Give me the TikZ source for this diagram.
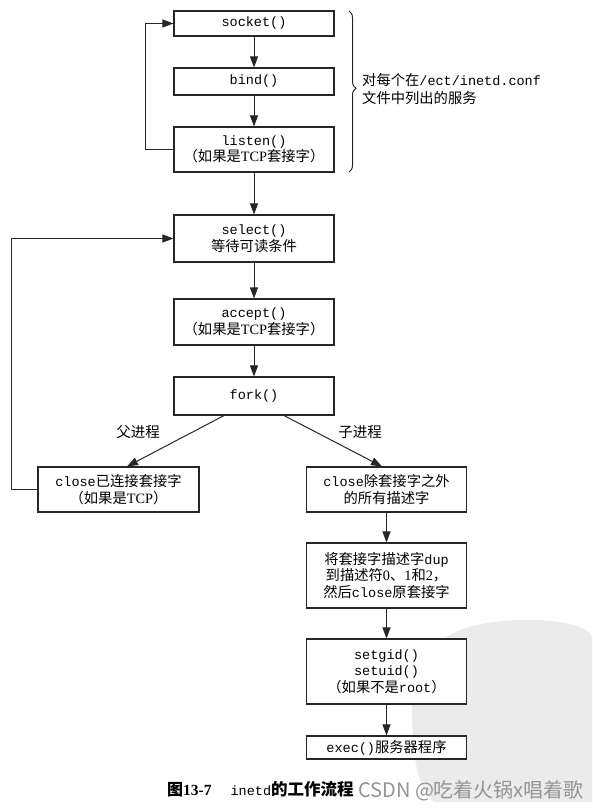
\documentclass[tikz,border=0pt]{standalone}
\usepackage{fontspec}
\setmainfont{Noto Sans CJK SC}
\setmonofont{Liberation Mono}
\newfontfamily\tnr{Liberation Serif}
\usetikzlibrary{arrows.meta,decorations.pathreplacing}
\newcommand{\cd}[1]{{\ttfamily\fontsize{13.5}{16.5}\selectfont #1}}
\begin{document}
\begin{tikzpicture}[x=1pt,y=-1pt,
  box/.style={draw=black!85,line width=1.1pt,fill=white,minimum width=160pt,
    align=center,inner sep=2pt,font=\fontsize{14.3}{16.5}\selectfont},
  arr/.style={line width=1pt,draw=black!85,-{Triangle[length=11pt,width=8pt]}},
  lbl/.style={font=\fontsize{14.5}{17}\selectfont},
  seal/.style={fill=black!8}
  ]
\useasboundingbox (0,0) rectangle (592,810);
% grey seal watermark
\fill[seal] (412,705) .. controls (412,648) and (448,622) .. (520,620)
  .. controls (565,619) and (592,628) .. (592,638) -- (592,802) -- (434,802)
  .. controls (418,788) and (412,760) .. cycle;
% boxes
\node[box,minimum height=25pt] (socket) at (254,23.5) {\cd{socket()}};
\node[box,minimum height=27pt] (bind) at (254,81.5) {\cd{bind()}};
\node[box,minimum height=45pt] (listen) at (254,149.5) {\cd{listen()}\\（如果是{\tnr TCP}套接字）};
\node[box,minimum height=47pt] (select) at (254,238.5) {\cd{select()}\\等待可读条件};
\node[box,minimum height=46pt] (accept) at (254,322) {\cd{accept()}\\（如果是{\tnr TCP}套接字）};
\node[box,minimum height=38pt] (fork) at (254,396) {\cd{fork()}};
\node[box,minimum width=161pt,minimum height=45pt] (pclose) at (118.5,489.5) {\cd{close}已连接套接字\\（如果是{\tnr TCP}）};
\node[box,minimum height=45pt] (cclose) at (386.5,489.5) {\cd{close}除套接字之外\\的所有描述字};
\node[box,minimum height=65pt] (dup) at (386.5,575.5) {将套接字描述字\cd{dup}\\到描述符{\tnr 0}、{\tnr 1}和{\tnr 2}，\\然后\cd{close}原套接字};
\node[box,minimum height=65pt] (setid) at (386.5,671.5) {\cd{setgid()}\\\cd{setuid()}\\（如果不是\cd{root}）};
\node[box,minimum height=23pt] (exec) at (386.5,747.5) {\cd{exec()}服务器程序};
% straight arrows
\draw[arr] (socket) -- (bind);
\draw[arr] (bind) -- (listen);
\draw[arr] (listen) -- (select);
\draw[arr] (select) -- (accept);
\draw[arr] (accept) -- (fork);
\draw[arr] (cclose) -- (dup);
\draw[arr] (dup) -- (setid);
\draw[arr] (setid) -- (exec);
% loops
\draw[arr] (listen.west) -- ++(-28,0) |- (socket.west);
\draw[arr] (pclose.west) -- ++(-26,0) |- (select.west);
% fork branches
\draw[arr] ([xshift=-30pt]fork.south) -- ([xshift=8.5pt]pclose.north);
\draw[arr] ([xshift=30pt]fork.south) -- ([xshift=-4.5pt]cclose.north);
\node[lbl] (lp) at (138,432) {父进程};
\node[lbl] (lc) at (360,432) {子进程};
% brace
\coordinate (bt) at (349,11);
\coordinate (bb) at (349,172);
\draw[line width=1pt,draw=black!85,decorate,decoration={brace,amplitude=7pt,aspect=0.48}] (bt) -- (bb);
\node[anchor=west,align=left,inner sep=0pt,font=\fontsize{14.3}{18}\selectfont] (note) at (362,89) {对每个在\cd{/ect/inetd.conf}\\文件中列出的服务};
% caption and watermark text
\node[anchor=west,inner sep=0pt,font=\fontsize{16}{18}\selectfont] (cap) at (167,789) {{\bfseries 图{\tnr\fontsize{15.5}{18}\selectfont 13-7}}\hspace{19pt}\cd{inetd}{\bfseries\fontsize{16.5}{18}\selectfont 的工作流程}};
\node[anchor=west,inner sep=0pt,text=black!42,font=\fontsize{20}{22}\selectfont] (wm) at (358,791) {CSDN @吃着火锅x唱着歌};
\end{tikzpicture}
\end{document}
